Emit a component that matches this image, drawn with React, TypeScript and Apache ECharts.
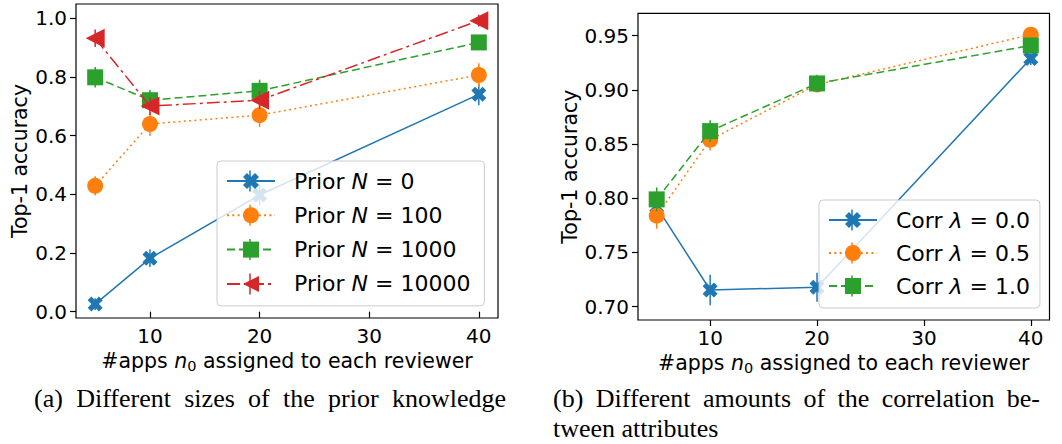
import React, { useEffect, useRef } from 'react';
import * as echarts from 'echarts';

// ---------- data ----------
const xValues = [5, 10, 20, 40];
const xTicks = [10, 20, 30, 40];

const priorNames = ['Prior N = 0', 'Prior N = 100', 'Prior N = 1000', 'Prior N = 10000'];
const priorN0 = [0.026, 0.182, 0.398, 0.741];
const priorN100 = [0.429, 0.64, 0.67, 0.807];
const priorN1000 = [0.799, 0.721, 0.753, 0.918];
const priorN10000 = [0.932, 0.701, 0.721, 0.992];
const priorErrN0 = [0.02, 0.03, 0.035, 0.037];
const priorErrN100 = [0.033, 0.04, 0.04, 0.04];
const priorErrN1000 = [0.035, 0.035, 0.038, 0.02];
const priorErrN10000 = [0.03, 0.03, 0.03, 0.02];
const leftYTicks = [0, 0.2, 0.4, 0.6, 0.8, 1.0];

const corrNames = ['Corr λ = 0.0', 'Corr λ = 0.5', 'Corr λ = 1.0'];
const corr00 = [0.792, 0.7154, 0.7179, 0.929];
const corr05 = [0.784, 0.854, 0.905, 0.951];
const corr10 = [0.799, 0.862, 0.906, 0.941];
const corrErr00 = [0.01, 0.014, 0.0134, 0.006];
const corrErr05 = [0.012, 0.01, 0.006, 0.005];
const corrErr10 = [0.011, 0.01, 0.008, 0.006];
const rightYTicks = [0.7, 0.75, 0.8, 0.85, 0.9, 0.95];

const captionA = ['(a)', 'Different', 'sizes', 'of', 'the', 'prior', 'knowledge'];
const captionBLine1 = ['(b)', 'Different', 'amounts', 'of', 'the', 'correlation', 'be-'];
const captionBLine2 = 'tween attributes';

// ---------- styles ----------
const FONT = 'DejaVu Sans';
const SERIF = 'Liberation Serif';
const X_PATH =
  'path://M73.57,2.86 L97.14,26.43 L73.57,50 L97.14,73.57 L73.57,97.14 L50,73.57 L26.43,97.14 L2.86,73.57 L26.43,50 L2.86,26.43 L26.43,2.86 L50,26.43 Z';
const TRI_LEFT = 'path://M0,50 L100,0 L100,100 Z';

const styles = [
  { color: '#1f77b4', symbol: X_PATH, size: 15, dash: 'solid' as any },
  { color: '#ff7f0e', symbol: 'circle', size: 16, dash: [2, 3.3] },
  { color: '#2ca02c', symbol: 'rect', size: 16, dash: [8, 4] },
  { color: '#d62728', symbol: TRI_LEFT, size: 19, dash: [13, 4, 3, 4] },
];

function buildSeries(
  names: string[],
  values: number[][],
  errs: number[][],
  axisIndex: number,
) {
  const out: any[] = [];
  names.forEach((name, i) => {
    const st = styles[i];
    out.push({
      type: 'custom',
      xAxisIndex: axisIndex,
      yAxisIndex: axisIndex,
      silent: true,
      z: 2 + i * 2,
      data: xValues.map((x, k) => [x, values[i][k] - errs[i][k], values[i][k] + errs[i][k]]),
      encode: { x: 0, y: [1, 2] },
      renderItem: (params: any, api: any) => {
        const p1 = api.coord([api.value(0), api.value(1)]);
        const p2 = api.coord([api.value(0), api.value(2)]);
        return {
          type: 'line',
          shape: { x1: p1[0], y1: p1[1], x2: p2[0], y2: p2[1] },
          style: { stroke: st.color, lineWidth: 1.5 },
        };
      },
    });
    out.push({
      type: 'line',
      name,
      xAxisIndex: axisIndex,
      yAxisIndex: axisIndex,
      z: 3 + i * 2,
      data: xValues.map((x, k) => [x, values[i][k]]),
      symbol: st.symbol,
      symbolSize: st.size,
      showAllSymbol: true,
      lineStyle: { color: st.color, width: 1.5, type: st.dash },
      itemStyle: { color: st.color, borderWidth: 0, opacity: 1 },
      emphasis: { disabled: true },
    });
  });
  return out;
}

function xAxisOpt(gridIndex: number) {
  return {
    type: 'value',
    gridIndex,
    min: 3.25,
    max: 41.75,
    axisLine: { show: false },
    axisTick: { show: true, customValues: xTicks, length: 6, lineStyle: { color: '#000', width: 1.2 } },
    axisLabel: { customValues: xTicks, color: '#000', fontFamily: FONT, fontSize: 20, margin: 8 },
    splitLine: { show: false },
    name: '#apps {i|n}{s|0} assigned to each reviewer',
    nameLocation: 'middle',
    nameGap: 30,
    nameTextStyle: {
      color: '#000',
      fontFamily: FONT,
      fontSize: 20.5,
      rich: {
        i: { fontStyle: 'italic', fontFamily: FONT, fontSize: 20.5, color: '#000' },
        s: { fontFamily: FONT, fontSize: 14.5, color: '#000', padding: [10, 0, 0, 0] },
      },
    },
  };
}

function yAxisOpt(gridIndex: number, min: number, max: number, ticks: number[], digits: number, gap: number) {
  return {
    type: 'value',
    gridIndex,
    min,
    max,
    axisLine: { show: false },
    axisTick: { show: true, customValues: ticks, length: 6, lineStyle: { color: '#000', width: 1.2 } },
    axisLabel: {
      customValues: ticks,
      color: '#000',
      fontFamily: FONT,
      fontSize: 20,
      margin: 9,
      formatter: (v: number) => v.toFixed(digits),
    },
    splitLine: { show: false },
    name: 'Top-1 accuracy',
    nameLocation: 'middle',
    nameGap: gap,
    nameTextStyle: { color: '#000', fontFamily: FONT, fontSize: 20.5 },
  };
}

function legendOpt(names: string[], left: number, top: number, padding: number[], gap: number) {
  return {
    data: names,
    orient: 'vertical',
    left,
    top,
    padding,
    itemGap: gap,
    itemWidth: 48,
    itemHeight: 20,
    backgroundColor: 'rgba(255,255,255,0.8)',
    borderColor: '#cccccc',
    borderWidth: 1,
    borderRadius: 4,
    selectedMode: false,
    formatter: (name: string) => name.replace(/(N|λ)/, '{i|$1}'),
    textStyle: {
      color: '#000',
      fontFamily: FONT,
      fontSize: 22,
      lineHeight: 26,
      padding: [0, 0, 0, 14],
      rich: {
        i: { fontStyle: 'italic', fontFamily: FONT, fontSize: 22, color: '#000' },
      },
    },
  };
}

// legend geometry (styling only)
const LEG_L = { left: 217, top: 161, pad: [7, 14, 9, 9], gap: 8.3 };
const LEG_R = { left: 819, top: 200, pad: [7, 10, 9, 9], gap: 7 };
const ROW_H = 26;

function legendErrorBars(names: string[], leg: typeof LEG_L) {
  return names.map((_, i) => {
    const cx = leg.left + leg.pad[3] + 24;
    const cy = leg.top + leg.pad[0] + ROW_H / 2 + i * (ROW_H + leg.gap);
    return {
      type: 'line',
      z: 100,
      silent: true,
      shape: { x1: cx, y1: cy - 10.5, x2: cx, y2: cy + 10.5 },
      style: { stroke: styles[i].color, lineWidth: 1.5 },
    };
  });
}

// justified caption line: words spread between x0 and x1
function justifiedLine(words: string[], x0: number, x1: number, top: number, font: string) {
  const ctx = document.createElement('canvas').getContext('2d')!;
  ctx.font = font;
  const widths = words.map((w) => ctx.measureText(w).width);
  const total = widths.reduce((a, b) => a + b, 0);
  const gap = (x1 - x0 - total) / (words.length - 1);
  let x = x0;
  return words.map((w, i) => {
    const el = { type: 'text', left: x, top, style: { text: w, font, fill: '#000' } };
    x += widths[i] + gap;
    return el;
  });
}

export default function App() {
  const ref = useRef<HTMLDivElement>(null);
  useEffect(() => {
    document.body.style.margin = '0';
    const chart = echarts.init(ref.current!, null, { renderer: 'svg' });

    const leftSeries = buildSeries(
      priorNames,
      [priorN0, priorN100, priorN1000, priorN10000],
      [priorErrN0, priorErrN100, priorErrN1000, priorErrN10000],
      0,
    );
    const rightSeries = buildSeries(corrNames, [corr00, corr05, corr10], [corrErr00, corrErr05, corrErr10], 1);

    const capFont = `26px "${SERIF}"`;
    const captionGraphics: any[] = [
      ...justifiedLine(captionA, 34, 506, 385, capFont),
      ...justifiedLine(captionBLine1, 553, 1040, 385, capFont),
      {
        type: 'text',
        left: 553,
        top: 415,
        style: { text: captionBLine2, font: capFont, fill: '#000' },
      },
    ];

    chart.setOption({
      animation: false,
      textStyle: { fontFamily: FONT },
      grid: [
        { left: 76, top: 4, width: 422, height: 314, show: true, borderColor: '#000', borderWidth: 1.2, backgroundColor: 'transparent' },
        { left: 638, top: 13.3, width: 411.5, height: 306.7, show: true, borderColor: '#000', borderWidth: 1.2, backgroundColor: 'transparent' },
      ],
      xAxis: [xAxisOpt(0), xAxisOpt(1)],
      yAxis: [
        yAxisOpt(0, -0.0215, 1.049, leftYTicks, 1, 46),
        yAxisOpt(1, 0.6877, 0.9707, rightYTicks, 2, 58),
      ],
      legend: [
        legendOpt(priorNames, LEG_L.left, LEG_L.top, LEG_L.pad, LEG_L.gap),
        legendOpt(corrNames, LEG_R.left, LEG_R.top, LEG_R.pad, LEG_R.gap),
      ],
      graphic: [
        ...captionGraphics,
        ...legendErrorBars(priorNames, LEG_L),
        ...legendErrorBars(corrNames, LEG_R),
      ],
      series: [...leftSeries, ...rightSeries],
    });
    return () => chart.dispose();
  }, []);
  return <div ref={ref} style={{ width: 1062, height: 444 }} />;
}
